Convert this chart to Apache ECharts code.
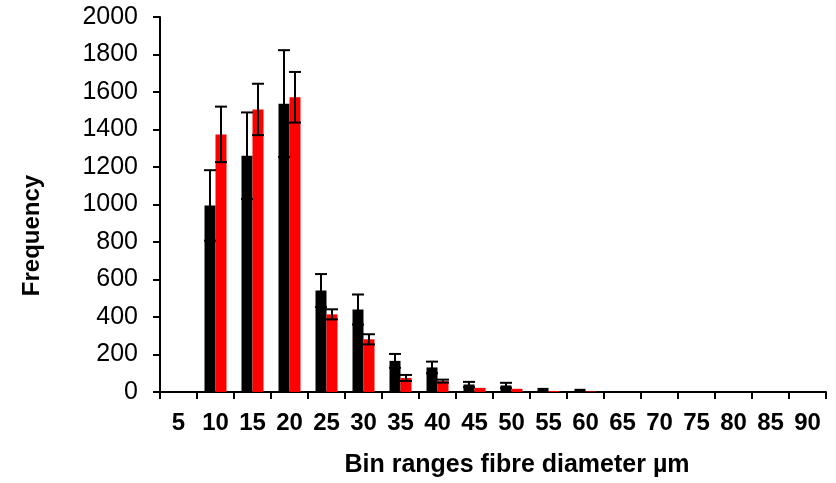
<!DOCTYPE html>
<html>
<head>
<meta charset="utf-8">
<script src="https://cdn.jsdelivr.net/npm/echarts@6/dist/echarts.min.js"></script>
<style>
  html, body { margin: 0; padding: 0; background: #fff; }
  #chart { width: 836px; height: 483px; }
</style>
</head>
<body>
<div id="chart"></div>
<script>
var bins = ['5', '10', '15', '20', '25', '30', '35', '40', '45', '50', '55', '60', '65', '70', '75', '80', '85', '90'];
var blackVals = [0, 995, 1260, 1538, 541, 440, 166, 131, 40, 35, 22, 17, 0, 0, 0, 0, 0, 0];
var blackErr  = [0, 188, 231, 285, 88, 80, 37, 31, 14, 14, 0, 0, 0, 0, 0, 0, 0, 0];
var redVals   = [0, 1374, 1507, 1572, 414, 281, 75, 58, 22, 17, 5, 3, 0, 0, 0, 0, 0, 0];
var redErr    = [0, 148, 137, 135, 27, 27, 16, 8, 0, 0, 0, 0, 0, 0, 0, 0, 0, 0];
var yTicks = [0, 200, 400, 600, 800, 1000, 1200, 1400, 1600, 1800, 2000];

var barW = 11;

function errData(vals, errs) {
    var out = [];
    for (var i = 0; i < vals.length; i++) {
        if (errs[i] > 0) out.push([i, vals[i], vals[i] - errs[i], vals[i] + errs[i]]);
    }
    return out;
}

function errRender(shift) {
    return function (params, api) {
        var x = api.coord([api.value(0), 0])[0] + shift;
        var lo = api.coord([api.value(0), api.value(2)])[1];
        var hi = api.coord([api.value(0), api.value(3)])[1];
        var half = 6;
        var style = { stroke: '#000', lineWidth: 2 };
        return {
            type: 'group',
            children: [
                { type: 'line', shape: { x1: x, y1: hi, x2: x, y2: lo }, style: style },
                { type: 'line', shape: { x1: x - half, y1: hi, x2: x + half, y2: hi }, style: style },
                { type: 'line', shape: { x1: x - half, y1: lo, x2: x + half, y2: lo }, style: style }
            ]
        };
    };
}

var myChart = echarts.init(document.getElementById('chart'));
var option = {
    animation: false,
    grid: { left: 160, right: 10, top: 17, bottom: 91 },
    xAxis: {
        type: 'category',
        data: bins,
        axisLine: { lineStyle: { color: '#000', width: 2 } },
        axisTick: { show: true, interval: 0, length: 7, lineStyle: { color: '#000', width: 2 } },
        axisLabel: { interval: 0, margin: 19, color: '#000', fontFamily: 'Liberation Sans', fontWeight: 'bold', fontSize: 24 },
        name: 'Bin ranges fibre diameter µm',
        nameLocation: 'middle',
        nameGap: 61,
        nameTextStyle: { color: '#000', fontFamily: 'Liberation Sans', fontWeight: 'bold', fontSize: 25, padding: [0, 0, 0, 48] }
    },
    yAxis: {
        type: 'value',
        min: 0,
        max: 2000,
        interval: 200,
        axisLine: { show: true, lineStyle: { color: '#000', width: 2 } },
        axisTick: { show: true, length: 7, lineStyle: { color: '#000', width: 2 } },
        splitLine: { show: false },
        axisLabel: {
            margin: 22, color: '#000', fontFamily: 'Liberation Sans', fontSize: 25,
            formatter: function (v) { return yTicks.indexOf(v) >= 0 ? String(v) : ''; }
        },
        name: 'Frequency',
        nameLocation: 'middle',
        nameGap: 116,
        nameTextStyle: { color: '#000', fontFamily: 'Liberation Sans', fontWeight: 'bold', fontSize: 24, padding: [0, 62, 0, 0] }
    },
    series: [
        {
            name: 'black',
            type: 'bar',
            data: blackVals,
            barWidth: barW,
            barGap: '0%',
            itemStyle: { color: '#000' }
        },
        {
            name: 'red',
            type: 'bar',
            data: redVals,
            barWidth: barW,
            barGap: '0%',
            itemStyle: { color: '#ff0000' }
        },
        {
            type: 'custom',
            renderItem: errRender(-barW / 2),
            data: errData(blackVals, blackErr),
            encode: { x: 0, y: [1, 2, 3] },
            z: 5
        },
        {
            type: 'custom',
            renderItem: errRender(barW / 2),
            data: errData(redVals, redErr),
            encode: { x: 0, y: [1, 2, 3] },
            z: 5
        }
    ]
};
myChart.setOption(option);
</script>
</body>
</html>
